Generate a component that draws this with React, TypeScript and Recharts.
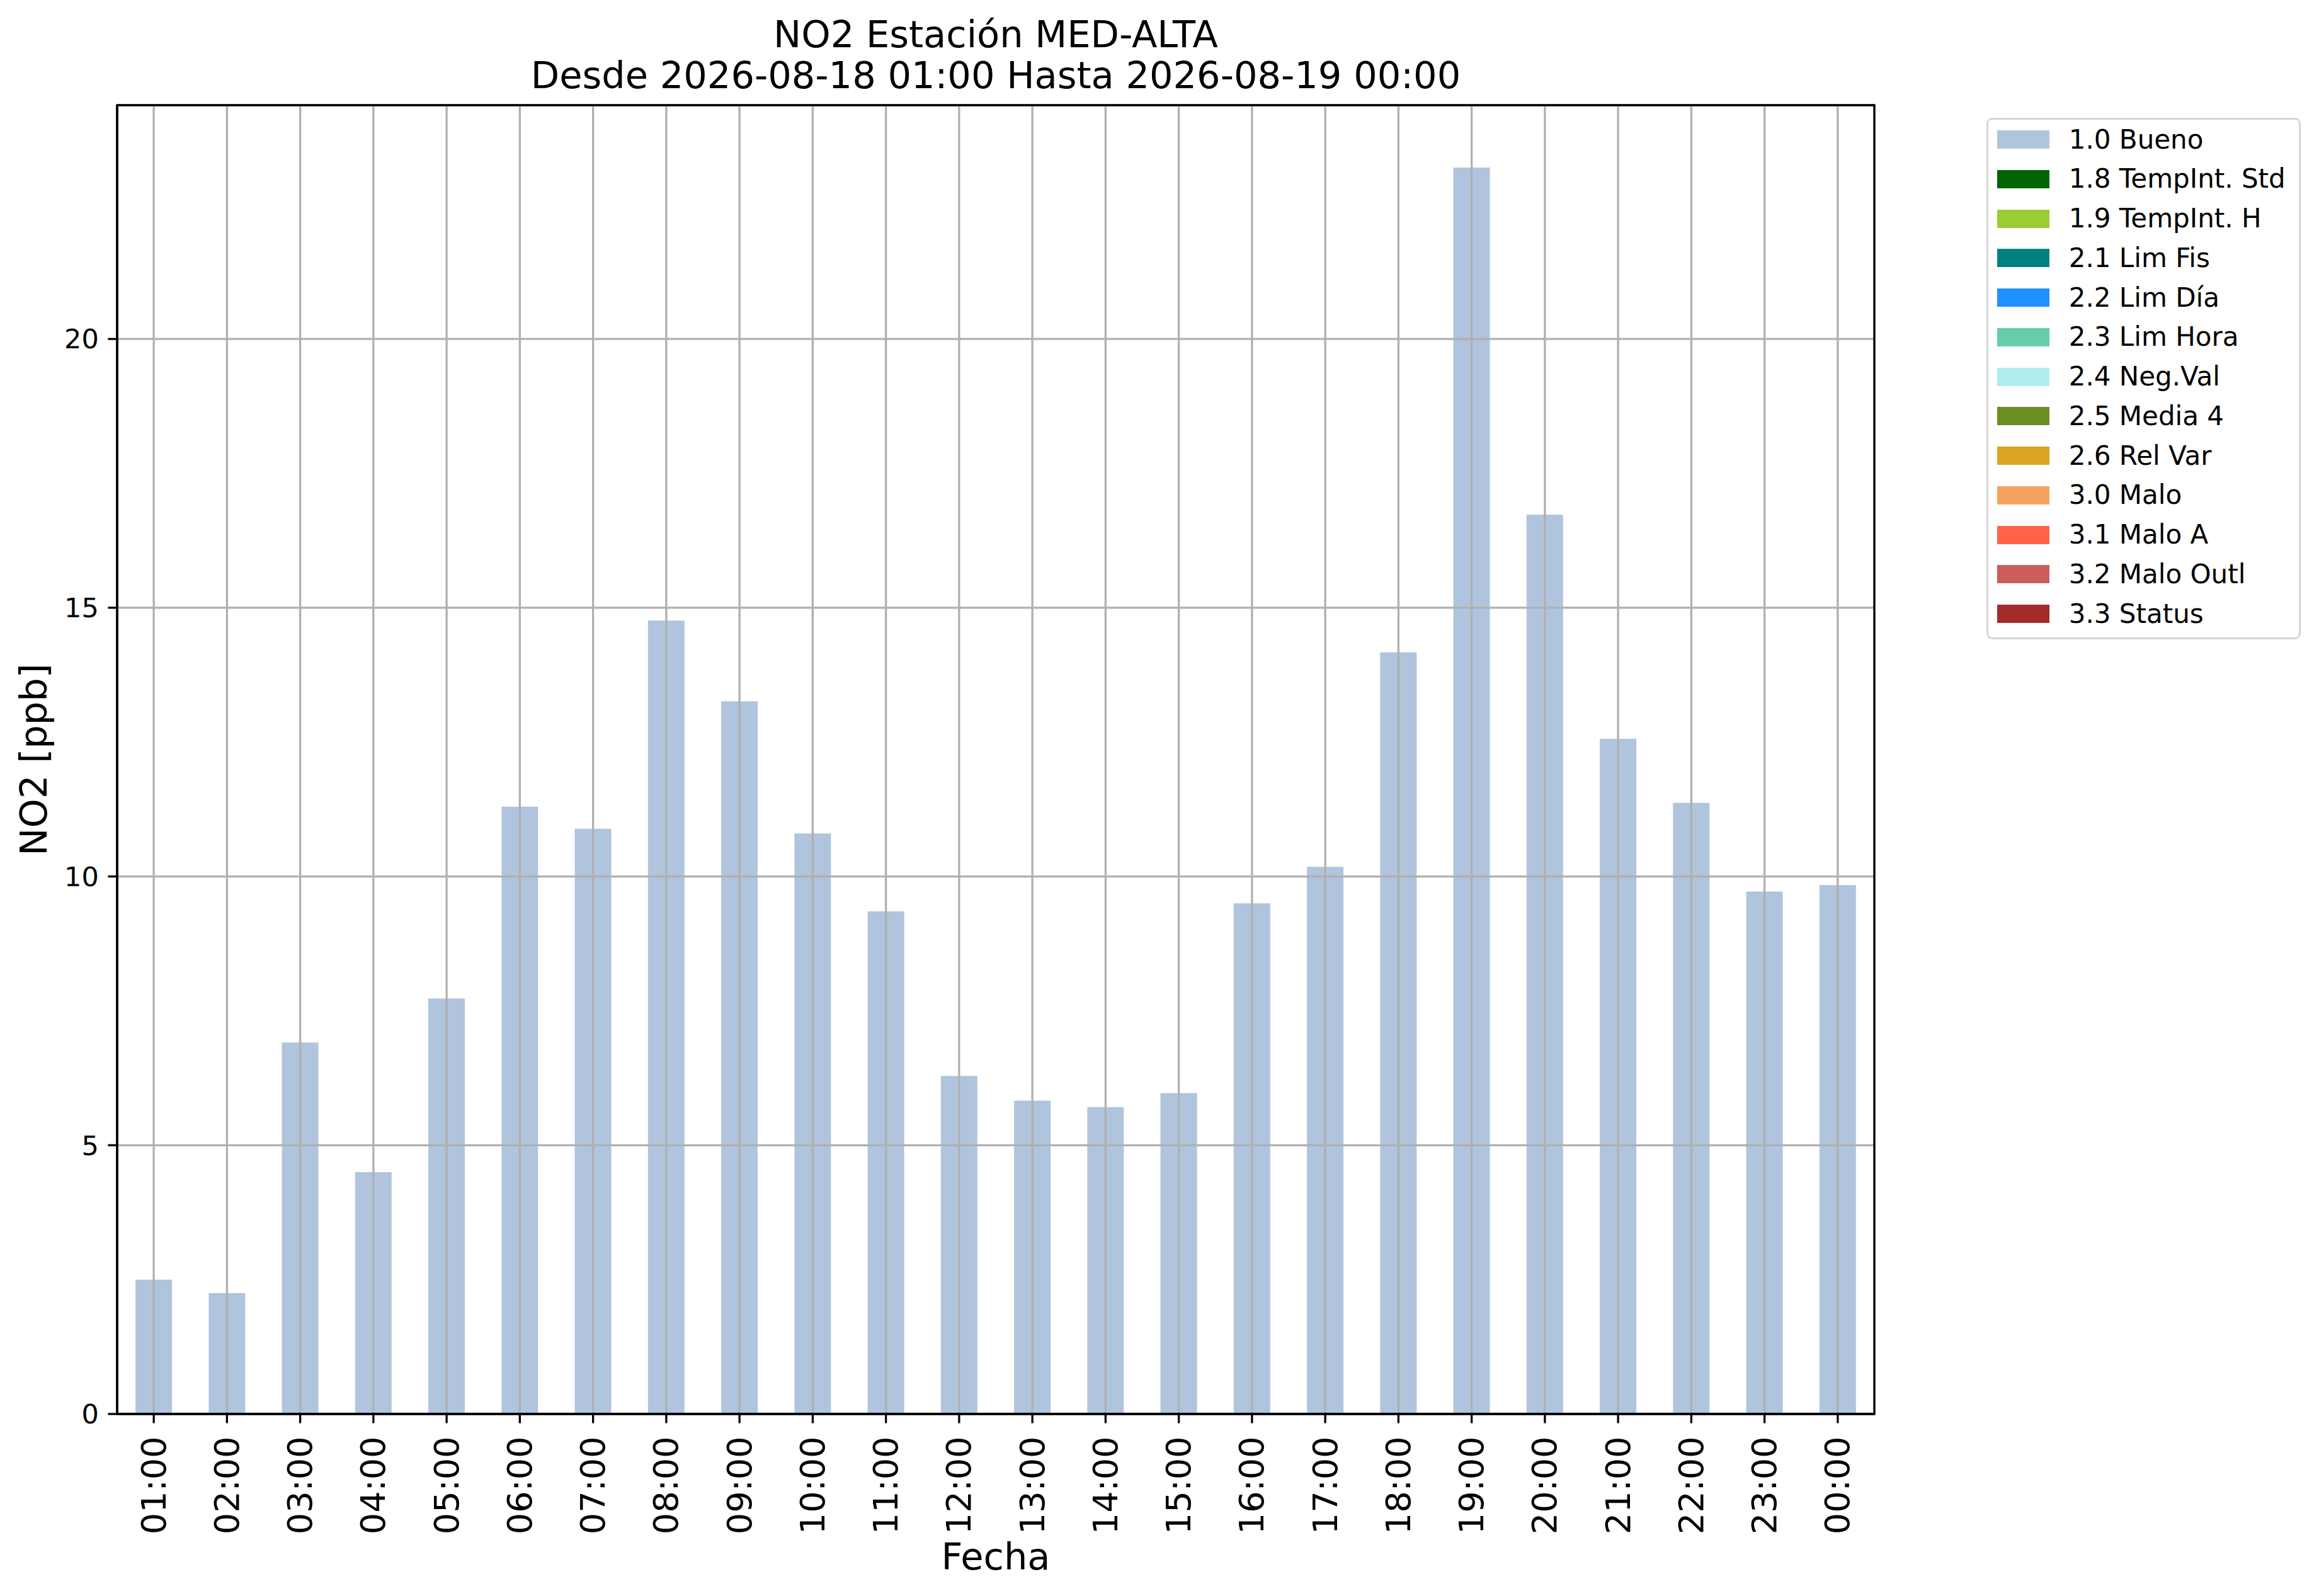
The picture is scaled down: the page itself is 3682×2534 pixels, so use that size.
import React from 'react';
import { BarChart, Bar, XAxis, YAxis, CartesianGrid, Legend, ReferenceArea } from 'recharts';

const hours = [
  '01:00', '02:00', '03:00', '04:00', '05:00', '06:00', '07:00', '08:00',
  '09:00', '10:00', '11:00', '12:00', '13:00', '14:00', '15:00', '16:00',
  '17:00', '18:00', '19:00', '20:00', '21:00', '22:00', '23:00', '00:00',
];
const no2Bueno = [
  2.5, 2.25, 6.91, 4.5, 7.73, 11.3, 10.89, 14.76,
  13.26, 10.8, 9.35, 6.29, 5.83, 5.71, 5.97, 9.5,
  10.18, 14.17, 23.19, 16.73, 12.56, 11.37, 9.72, 9.84,
];
const yTicks = [0, 5, 10, 15, 20];
const qualityLabels = [
  '1.0 Bueno', '1.8 TempInt. Std', '1.9 TempInt. H', '2.1 Lim Fis', '2.2 Lim Día',
  '2.3 Lim Hora', '2.4 Neg.Val', '2.5 Media 4', '2.6 Rel Var', '3.0 Malo',
  '3.1 Malo A', '3.2 Malo Outl', '3.3 Status',
];
const qualityColors = [
  '#b0c4de', '#006400', '#9acd32', '#008080', '#1e90ff',
  '#66cdaa', '#afeeee', '#6b8e23', '#daa520', '#f4a460',
  '#ff6347', '#cd5c5c', '#a52a2a',
];
const titleLines = ['NO2 Estación MED-ALTA', 'Desde 2026-08-18 01:00 Hasta 2026-08-19 00:00'];
const xLabel = 'Fecha';
const yLabel = 'NO2 [ppb]';

const data = hours.map((h, i) => ({ hour: h, bueno: no2Bueno[i] }));
const yTop = Math.max(...no2Bueno) * 1.05;

const W = 3682;
const H = 2534;
const FONT = '"DejaVu Sans", Verdana, sans-serif';
const LW = 3.3;

const XTick = (props: any) => {
  const { x, y, payload } = props;
  return (
    <text
      x={x}
      y={y}
      transform={`rotate(-90, ${x}, ${y})`}
      textAnchor="end"
      dominantBaseline="central"
      fontSize={54}
      fill="#000"
      fontFamily={FONT}
    >
      {payload.value}
    </text>
  );
};

const LegendBox = () => (
  <div
    style={{
      position: 'relative',
      width: 499,
      height: 828,
      boxSizing: 'border-box',
      border: `${LW}px solid #d6d6d6`,
      borderRadius: 9,
      background: '#fff',
      fontFamily: FONT,
      fontSize: 42,
      color: '#000',
    }}
  >
    {qualityLabels.map((lab, i) => (
      <div
        key={lab}
        style={{
          position: 'absolute',
          left: 0,
          top: 35 - LW + i * 62.75 - 31.375,
          height: 62.75,
          display: 'flex',
          alignItems: 'center',
          whiteSpace: 'nowrap',
        }}
      >
        <div style={{ marginLeft: 17 - LW, width: 83, height: 29, background: qualityColors[i] }} />
        <span style={{ marginLeft: 31, lineHeight: 1 }}>{lab}</span>
      </div>
    ))}
  </div>
);

export default function App() {
  return (
    <div style={{ position: 'absolute', left: 0, top: 0, width: W, height: H, background: '#fff', fontFamily: FONT }}>
      <BarChart
        width={W}
        height={H}
        data={data}
        margin={{ top: 167, right: 706, bottom: 189, left: 86 }}
        barCategoryGap="25%"
      >
        <Bar dataKey="bueno" name={qualityLabels[0]} fill={qualityColors[0]} isAnimationActive={false} />
        <CartesianGrid stroke="#b0b0b0" strokeWidth={LW} zIndex={1000} />
        <ReferenceArea
          x1={hours[0]}
          x2={hours[hours.length - 1]}
          y1={0}
          y2={yTop}
          fill="none"
          fillOpacity={0}
          stroke="#000"
          strokeWidth={LW}
          strokeOpacity={1}
          ifOverflow="visible"
          zIndex={3000}
        />
        <XAxis
          dataKey="hour"
          interval={0}
          height={100}
          tick={<XTick />}
          tickSize={14.6}
          tickMargin={21}
          axisLine={{ stroke: '#000', strokeWidth: LW }}
          tickLine={{ stroke: '#000', strokeWidth: LW }}
          zIndex={2000}
        />
        <YAxis
          width={100}
          domain={[0, yTop]}
          ticks={yTicks}
          allowDataOverflow
          tick={{ fill: '#000', fontSize: 43, fontFamily: FONT }}
          tickSize={14.6}
          tickMargin={14.6}
          axisLine={{ stroke: '#000', strokeWidth: LW }}
          tickLine={{ stroke: '#000', strokeWidth: LW }}
          zIndex={2000}
        />
        <Legend
          layout="horizontal"
          verticalAlign="middle"
          align="center"
          content={<LegendBox />}
          wrapperStyle={{ left: 3154, top: 187, width: 499, height: 828 }}
        />
      </BarChart>
      <svg
        width={W}
        height={H}
        style={{ position: 'absolute', left: 0, top: 0, pointerEvents: 'none' }}
        fontFamily={FONT}
      >
        <text x={1581} y={75} textAnchor="middle" fontSize={59} fill="#000">{titleLines[0]}</text>
        <text x={1581} y={140} textAnchor="middle" fontSize={59} fill="#000">{titleLines[1]}</text>
        <text x={1581} y={2492} textAnchor="middle" fontSize={59} fill="#000">{xLabel}</text>
        <text x={74} y={1206} transform="rotate(-90, 74, 1206)" textAnchor="middle" fontSize={59} fill="#000">
          {yLabel}
        </text>
      </svg>
    </div>
  );
}
